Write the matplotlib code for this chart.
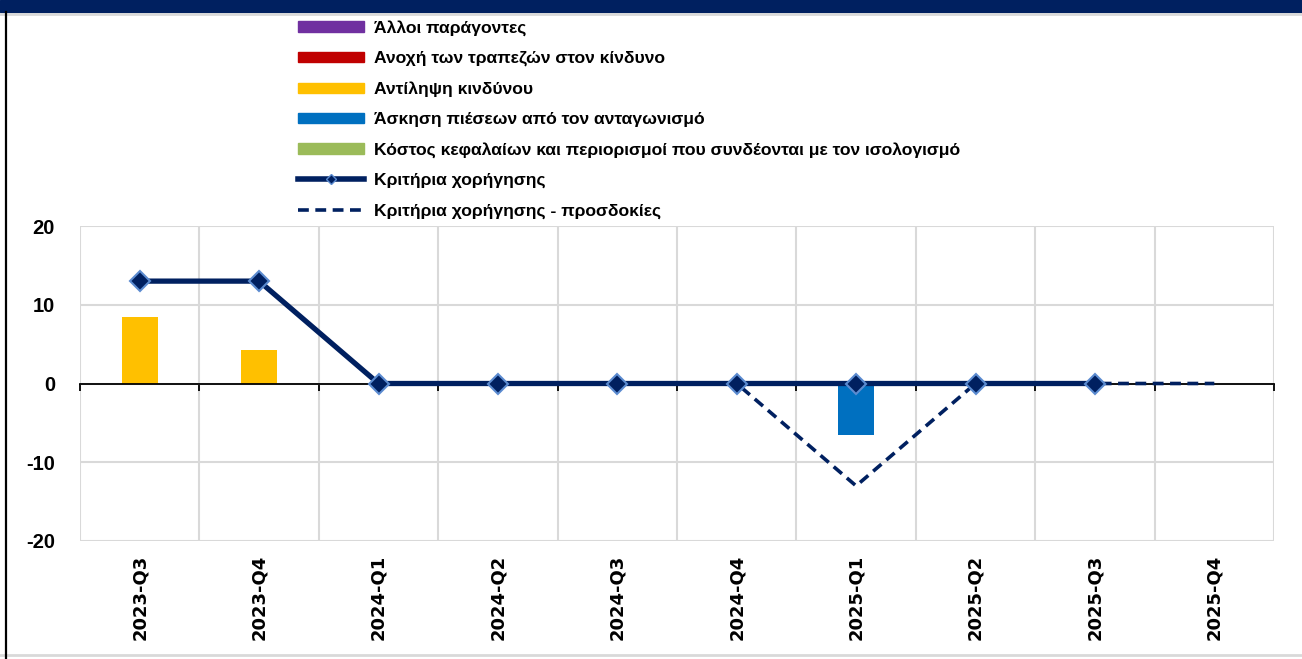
import matplotlib.pyplot as plt
import matplotlib.lines as mlines
import matplotlib.patches as mpatches
import numpy as np

plt.rcParams['font.family'] = ['Liberation Sans', 'DejaVu Sans']
plt.rcParams['axes.unicode_minus'] = False

# quarters on the x axis
quarters = ['2023-Q3', '2023-Q4', '2024-Q1', '2024-Q2', '2024-Q3',
            '2024-Q4', '2025-Q1', '2025-Q2', '2025-Q3', '2025-Q4']

# contributing factors (stacked bars), nan = no value
other_factors = [0, 0, 0, 0, 0, 0, 0, 0, 0, np.nan]
risk_tolerance = [0, 0, 0, 0, 0, 0, 0, 0, 0, np.nan]
risk_perception = [8.5, 4.2, 0, 0, 0, 0, 0, 0, 0, np.nan]
competition = [0, 0, 0, 0, 0, 0, -6.6, 0, 0, np.nan]
cost_of_funds = [0, 0, 0, 0, 0, 0, 0, 0, 0, np.nan]

# credit standards: actual and expected
credit_standards = [13, 13, 0, 0, 0, 0, 0, 0, 0, np.nan]
credit_expected = [13, 13, 0, 0, 0, 0, -13, 0, 0, 0]

bar_series = [
    ('Άλλοι παράγοντες', other_factors, '#7030A0'),
    ('Ανοχή των τραπεζών στον κίνδυνο', risk_tolerance, '#C00000'),
    ('Αντίληψη κινδύνου', risk_perception, '#FFC000'),
    ('Άσκηση πιέσεων από τον ανταγωνισμό', competition, '#0070C0'),
    ('Κόστος κεφαλαίων και περιορισμοί που συνδέονται με τον ισολογισμό', cost_of_funds, '#9BBB59'),
]
navy = '#002060'
dash = (0, (3.0, 1.8))

fig = plt.figure(figsize=(13.02, 6.59), dpi=100)
ax = fig.add_axes([80 / 1302, 118 / 659, 1194 / 1302, 315 / 659])

x = np.arange(len(quarters))
pos_bottom = np.zeros(len(quarters))
neg_bottom = np.zeros(len(quarters))
for name, vals, col in bar_series:
    v = np.array(vals, dtype=float)
    v0 = np.nan_to_num(v)
    bottom = np.where(v0 >= 0, pos_bottom, neg_bottom)
    ax.bar(x, v0, 0.3, bottom=bottom, color=col, zorder=2)
    pos_bottom += np.where(v0 > 0, v0, 0)
    neg_bottom += np.where(v0 < 0, v0, 0)

ax.plot(x, credit_expected, color=navy, lw=2.6, ls=dash, zorder=3)
ax.plot(x, credit_standards, color=navy, lw=3.8, marker='D', ms=10,
        mfc=navy, mec='#5b8bd0', mew=1.5, zorder=4)

ax.set_xlim(-0.5, len(quarters) - 0.5)
ax.set_ylim(-20, 20)
ax.set_yticks([-20, -10, 0, 10, 20])
ax.set_xticks(np.arange(len(quarters) + 1) - 0.5)
ax.set_xticklabels([])
ax.tick_params(axis='x', direction='out', length=5, width=1.3, color='black')
ax.tick_params(axis='y', length=0, pad=18, labelsize=14.5)
for lab in ax.get_yticklabels():
    lab.set_fontweight('bold')
ax.grid(True, color='#D9D9D9', lw=1.5, zorder=0)
ax.set_axisbelow(True)
for s in ['left', 'right', 'top']:
    ax.spines[s].set_visible(False)
ax.spines['bottom'].set_position(('data', 0))
ax.spines['bottom'].set_linewidth(1.3)
ax.spines['bottom'].set_zorder(2.5)

for i, q in enumerate(quarters):
    ax.text(i, -0.045, q, transform=ax.get_xaxis_transform(), rotation=90,
            ha='center', va='top', fontsize=13, fontweight='bold',
            family='DejaVu Sans')

# legend
handles = [mpatches.Patch(color=col, label=name) for name, vals, col in bar_series]
handles.append(mlines.Line2D([], [], color=navy, lw=4, marker='D', ms=5,
                             mfc=navy, mec='#5b8bd0', label='Κριτήρια χορήγησης'))
handles.append(mlines.Line2D([], [], color=navy, lw=2.6, ls=dash,
                             label='Κριτήρια χορήγησης - προσδοκίες'))
fig.legend(handles=handles, loc='upper left', bbox_to_anchor=(291 / 1302, 1 - 13 / 659),
           frameon=False, prop={'size': 12.6, 'weight': 'bold'},
           handlelength=3.77, handleheight=0.54, handletextpad=0.57, labelspacing=0.86,
           borderaxespad=0)

# frame decorations
fig.patches.append(mpatches.Rectangle((0, 1 - 12 / 659), 1, 12 / 659,
                                      transform=fig.transFigure, color=navy))
fig.lines.append(mlines.Line2D([0, 1], [1 - 14 / 659] * 2, transform=fig.transFigure,
                               color='#D9D9D9', lw=2))
fig.lines.append(mlines.Line2D([0, 1], [4 / 659] * 2, transform=fig.transFigure,
                               color='#D9D9D9', lw=2))
fig.lines.append(mlines.Line2D([6 / 1302] * 2, [0, 1 - 12 / 659], transform=fig.transFigure,
                               color='black', lw=1.6))

fig.savefig('out.png', dpi=100)
